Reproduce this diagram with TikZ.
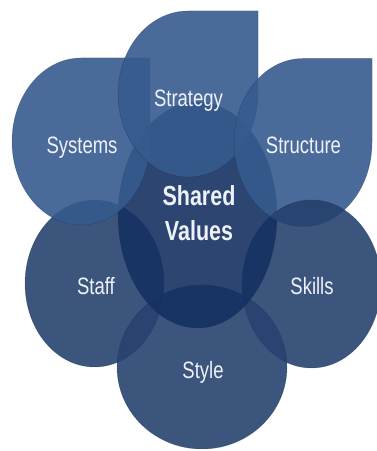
\documentclass[tikz,border=0pt]{standalone}
\usepackage{fontspec}
\setmainfont{Liberation Sans}
\definecolor{topc}{RGB}{54,91,142}
\definecolor{botc}{RGB}{39,67,111}
\definecolor{svc}{RGB}{21,49,98}
\definecolor{edgec}{RGB}{25,45,80}
\definecolor{txtc}{RGB}{238,242,248}
\newcommand\vstr[1]{\scalebox{1}[1.28]{#1}}
\newcommand\tdpath[4]{(#1,#2+#4) -- (#1+#3,#2+#4) -- (#1+#3,#2) arc[start angle=0,end angle=-270,x radius=#3,y radius=#4] -- cycle}
\tikzset{
  shp/.style={fill opacity=0.9, draw=edgec, draw opacity=0.35, line width=0.5pt},
  lbl/.style={anchor=base, inner sep=0pt, text=txtc, font=\fontsize{18.5}{22}\selectfont},
  blbl/.style={lbl, font=\fontsize{21.5}{25}\selectfont\bfseries}
}
\begin{document}
\begin{tikzpicture}[x=1pt,y=1pt]
\useasboundingbox (0,0) rectangle (377,451);
% lower circles
\path[shp, fill=botc] (94.5,167.5) ellipse [x radius=69.5, y radius=83.5];
\path[shp, fill=botc] (311.5,167) ellipse [x radius=69.5, y radius=84];
\path[shp, fill=botc] (202,84) ellipse [x radius=85, y radius=82];
% shared values
\path[shp, fill=svc] (197.5,236) ellipse [x radius=79.5, y radius=113];
% upper teardrops
\path[shp, fill=topc] \tdpath{81}{309.5}{69}{83.5};
\path[shp, fill=topc] \tdpath{188}{357}{70}{83};
\path[shp, fill=topc] \tdpath{303}{308.5}{69}{84};
% skills over structure
\begin{scope}
  \clip \tdpath{303}{308.5}{69}{84};
  \path[shp, fill=botc] (311.5,167) ellipse [x radius=69.5, y radius=84];
\end{scope}
% labels
\node[lbl] (strategy) at (188.5,344.5) {\vstr{Strategy}};
\node[lbl] (systems) at (82,297) {\vstr{Systems}};
\node[lbl] (structure) at (303.5,297) {\vstr{Structure}};
\node[blbl] (shared) at (199,245) {\vstr{Shared}};
\node[blbl] (values) at (199,211) {\vstr{Values}};
\node[lbl] (staff) at (96,157) {\vstr{Staff}};
\node[lbl] (skills) at (312,157) {\vstr{Skills}};
\node[lbl] (style) at (203,73) {\vstr{Style}};
\end{tikzpicture}
\end{document}
